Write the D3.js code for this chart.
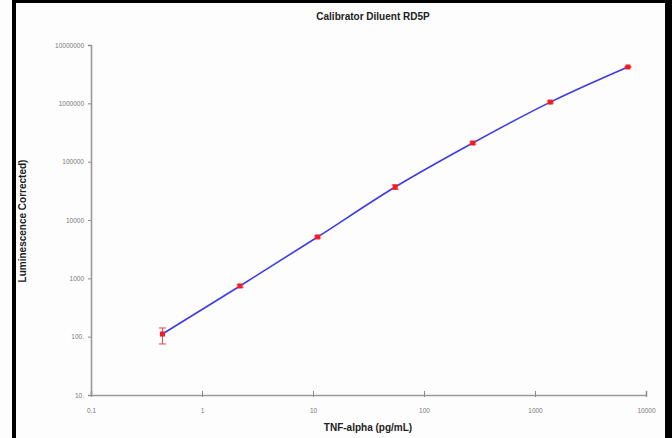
<!DOCTYPE html>
<html>
<head>
<meta charset="utf-8">
<script src="https://cdn.jsdelivr.net/npm/d3@7"></script>
<style>
  body { margin: 0; background: #fff; }
  svg { display: block; font-family: Arial, "Liberation Sans", sans-serif; }
</style>
</head>
<body>
<script>
const width = 672;
const height = 438;
const margin = ({top: 45, right: 26, bottom: 43, left: 91});

// data
const concentrations = [0.44, 2.2, 11, 55, 275, 1375, 6875];
const luminescence = [111, 740, 5120, 36800, 209000, 1050000, 4200000];
const errLow = [75, 700, 4900, 33500, 200000, 1010000, 4150000];
const errHigh = [141, 780, 5350, 40000, 218000, 1090000, 4250000];

const xTicks = [0.1, 1, 10, 100, 1000, 10000];
const xTickLabels = ["0.1", "1", "10", "100", "1000", "10000"];
const yTicks = [10, 100, 1000, 10000, 100000, 1000000, 10000000];
const yTickLabels = ["10.", "100.", "1000", "10000", "100000", "1000000", "10000000"];

const points = concentrations.map((c, i) => ({x: c, y: luminescence[i], lo: errLow[i], hi: errHigh[i]}));

const svg = d3.select("body")
  .append("svg")
  .attr("width", width)
  .attr("height", height);

svg.append("rect")
  .attr("width", width)
  .attr("height", height)
  .attr("fill", "#fdfdfd");

const x = d3.scaleLog()
  .domain([0.1, 10000])
  .range([margin.left, width - margin.right]);

const y = d3.scaleLog()
  .domain([10, 10000000])
  .range([height - margin.bottom, margin.top]);

// axes
const xAxis = g => g
  .attr("transform", `translate(0,${y(10)})`)
  .call(d3.axisBottom(x).tickValues(xTicks).tickFormat((d, i) => xTickLabels[i]).tickSize(-4).tickPadding(13))
  .call(g => g.select(".domain").attr("stroke", "#9a9a9a").attr("stroke-width", 1.6))
  .call(g => g.selectAll(".tick line").attr("stroke", "#8a8a8a").attr("y2", -4).attr("y1", 2))
  .call(g => g.selectAll(".tick text").attr("fill", "#777").attr("font-size", 6.5));

const yAxis = g => g
  .attr("transform", `translate(${x(0.1)},0)`)
  .call(d3.axisLeft(y).tickValues(yTicks).tickFormat((d, i) => yTickLabels[i]).tickSize(3).tickPadding(4))
  .call(g => g.select(".domain").attr("stroke", "#9a9a9a").attr("stroke-width", 1.6))
  .call(g => g.selectAll(".tick line").attr("stroke", "#8a8a8a"))
  .call(g => g.selectAll(".tick text").attr("fill", "#777").attr("font-size", 6.5));

svg.append("g").call(xAxis);
svg.append("g").call(yAxis);

// fitted curve
const line = d3.line()
  .x(d => x(d.x))
  .y(d => y(d.y))
  .curve(d3.curveMonotoneX);

svg.append("path")
  .datum(points)
  .attr("fill", "none")
  .attr("stroke", "#3b3be8")
  .attr("stroke-width", 1.6)
  .attr("d", line);

// error bars
const err = svg.append("g")
  .attr("stroke", "#f04040")
  .attr("stroke-width", 1);

err.selectAll("line.v")
  .data(points)
  .join("line")
  .attr("class", "v")
  .attr("x1", d => x(d.x))
  .attr("x2", d => x(d.x))
  .attr("y1", d => y(d.lo))
  .attr("y2", d => y(d.hi));

err.selectAll("line.lo")
  .data(points)
  .join("line")
  .attr("class", "lo")
  .attr("x1", d => x(d.x) - 3.5)
  .attr("x2", d => x(d.x) + 3.5)
  .attr("y1", d => y(d.lo))
  .attr("y2", d => y(d.lo));

err.selectAll("line.hi")
  .data(points)
  .join("line")
  .attr("class", "hi")
  .attr("x1", d => x(d.x) - 3.5)
  .attr("x2", d => x(d.x) + 3.5)
  .attr("y1", d => y(d.hi))
  .attr("y2", d => y(d.hi));

// markers
svg.append("g")
  .selectAll("rect")
  .data(points)
  .join("rect")
  .attr("x", d => x(d.x) - 2.5)
  .attr("y", d => y(d.y) - 2.5)
  .attr("width", 5)
  .attr("height", 5)
  .attr("fill", "#ee1c24");

// titles
svg.append("text")
  .attr("x", 373)
  .attr("y", 20)
  .attr("text-anchor", "middle")
  .attr("font-size", 10)
  .attr("font-weight", "bold")
  .attr("fill", "#222")
  .text("Calibrator Diluent RD5P");

svg.append("text")
  .attr("x", 368)
  .attr("y", 431)
  .attr("text-anchor", "middle")
  .attr("font-size", 10)
  .attr("font-weight", "bold")
  .attr("fill", "#222")
  .text("TNF-alpha (pg/mL)");

svg.append("text")
  .attr("transform", "translate(26,221) rotate(-90)")
  .attr("text-anchor", "middle")
  .attr("font-size", 10)
  .attr("font-weight", "bold")
  .attr("fill", "#222")
  .text("Luminescence Corrected)");

// frame
svg.append("rect").attr("x", 12).attr("y", 0).attr("width", 4).attr("height", height).attr("fill", "#000");
svg.append("rect").attr("x", 12).attr("y", 0).attr("width", width - 12).attr("height", 3).attr("fill", "#000");
svg.append("rect").attr("x", 665).attr("y", 0).attr("width", 7).attr("height", height).attr("fill", "#000");
</script>
</body>
</html>
